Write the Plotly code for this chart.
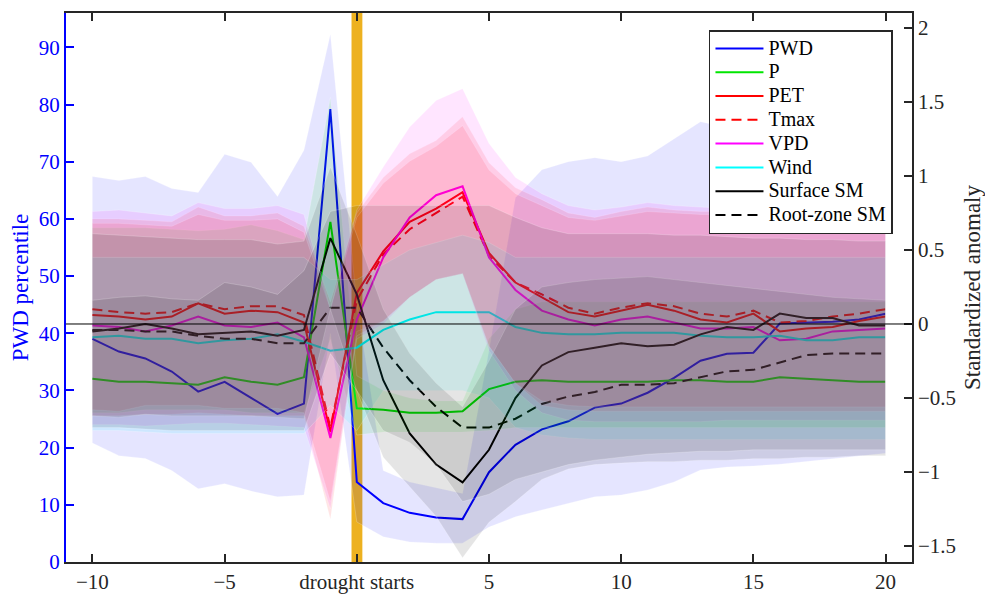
import plotly.graph_objects as go

days = list(range(-10, 21))

# PWD percentile (left axis)
pwd = [39.0, 36.8, 35.6, 33.3, 29.8, 31.5, 28.7, 25.9, 27.7, 79.2, 14.0, 10.3, 8.6, 7.8, 7.5,
       15.7, 20.5, 23.2, 24.6, 27.0, 27.7, 29.6, 32.2, 35.2, 36.4, 36.6, 41.7, 41.9, 42.0, 42.4, 43.4]
pwd_up = [67.4, 66.7, 67.4, 65.3, 64.6, 71.3, 69.9, 63.9, 72.0, 92.3, 45.0, 16.0, 14.0, 13.0, 12.0,
          37.0, 63.7, 68.6, 70.0, 70.7, 70.0, 71.0, 74.0, 77.0, 76.0, 76.0, 77.0, 78.0, 78.0, 78.0, 78.0]
pwd_lo = [20.8, 18.6, 18.1, 16.0, 12.8, 13.7, 12.4, 11.4, 11.7, 40.0, 7.0, 4.4, 3.5, 3.3, 3.3,
          6.1, 7.9, 9.1, 10.3, 11.4, 11.7, 12.6, 14.0, 16.1, 16.6, 16.8, 17.1, 17.5, 18.0, 18.5, 19.0]

# Standardized anomalies (right axis)
p = [-0.37, -0.39, -0.39, -0.40, -0.41, -0.36, -0.39, -0.41, -0.36, 0.69, -0.57, -0.58, -0.60, -0.60, -0.59,
     -0.44, -0.39, -0.38, -0.39, -0.39, -0.39, -0.39, -0.38, -0.38, -0.39, -0.39, -0.36, -0.37, -0.38, -0.39, -0.39]
pet = [0.06, 0.05, 0.03, 0.05, 0.14, 0.07, 0.09, 0.08, 0.01, -0.73, 0.21, 0.49, 0.69, 0.78, 0.89,
       0.48, 0.28, 0.18, 0.08, 0.05, 0.09, 0.13, 0.09, 0.03, 0.01, 0.07, -0.05, -0.03, -0.02, 0.02, 0.05]
tmax = [0.10, 0.08, 0.07, 0.08, 0.14, 0.10, 0.12, 0.12, 0.06, -0.70, 0.16, 0.47, 0.64, 0.75, 0.86,
        0.46, 0.28, 0.20, 0.11, 0.07, 0.11, 0.14, 0.12, 0.07, 0.05, 0.09, 0.01, 0.02, 0.05, 0.07, 0.10]
vpd = [-0.01, -0.02, -0.05, -0.01, 0.05, -0.01, -0.02, 0.01, -0.09, -0.77, 0.03, 0.45, 0.72, 0.87, 0.93,
       0.45, 0.23, 0.09, 0.03, -0.01, 0.03, 0.05, 0.01, -0.03, -0.03, -0.02, -0.11, -0.10, -0.05, -0.04, -0.03]
wind = [-0.09, -0.08, -0.10, -0.10, -0.13, -0.11, -0.10, -0.07, -0.12, -0.18, -0.16, -0.04, 0.03, 0.08, 0.08,
        0.08, -0.02, -0.06, -0.07, -0.07, -0.06, -0.06, -0.06, -0.08, -0.09, -0.09, -0.08, -0.11, -0.11, -0.09, -0.09]
surf_sm = [-0.05, -0.03, 0.00, -0.03, -0.07, -0.06, -0.05, -0.08, -0.04, 0.58, 0.20, -0.38, -0.74, -0.95, -1.07,
           -0.85, -0.50, -0.28, -0.19, -0.16, -0.13, -0.15, -0.14, -0.07, -0.02, -0.04, 0.07, 0.04, 0.04, -0.01, -0.01]
root_sm = [-0.04, -0.04, -0.05, -0.05, -0.08, -0.10, -0.10, -0.13, -0.13, 0.11, 0.11, -0.16, -0.38, -0.56, -0.70,
           -0.70, -0.64, -0.54, -0.49, -0.46, -0.41, -0.41, -0.40, -0.36, -0.32, -0.31, -0.26, -0.21, -0.20, -0.20, -0.20]

# Spread bands (right axis)
p_up = [0.65, 0.65, 0.65, 0.64, 0.63, 0.64, 0.67, 0.63, 0.57, 1.53, -0.35, -0.45, -0.50, -0.52, -0.52,
        -0.10, 0.10, 0.15, 0.15, 0.15, 0.15, 0.15, 0.15, 0.15, 0.15, 0.15, 0.15, 0.15, 0.15, 0.15, 0.15]
p_lo = [-0.60, -0.60, -0.58, -0.58, -0.58, -0.58, -0.60, -0.60, -0.60, -0.10, -0.75, -0.73, -0.73, -0.73, -0.73,
        -0.72, -0.70, -0.70, -0.70, -0.70, -0.70, -0.70, -0.70, -0.70, -0.70, -0.70, -0.70, -0.70, -0.70, -0.70, -0.70]
pet_up = [0.71, 0.71, 0.70, 0.69, 0.79, 0.73, 0.73, 0.75, 0.66, 0.15, 0.75, 0.99, 1.15, 1.24, 1.40,
          1.09, 0.92, 0.84, 0.75, 0.72, 0.76, 0.79, 0.77, 0.76, 0.76, 0.78, 0.75, 0.76, 0.77, 0.77, 0.77]
pet_lo = [-0.62, -0.62, -0.61, -0.61, -0.60, -0.61, -0.62, -0.62, -0.62, -1.32, -0.05, 0.02, 0.18, 0.30, 0.34,
          -0.15, -0.40, -0.55, -0.58, -0.59, -0.59, -0.59, -0.59, -0.59, -0.59, -0.59, -0.59, -0.59, -0.59, -0.59, -0.59]
tmax_up = [0.68, 0.68, 0.67, 0.66, 0.74, 0.70, 0.70, 0.71, 0.62, 0.10, 0.72, 0.95, 1.10, 1.20, 1.34,
           1.04, 0.88, 0.80, 0.72, 0.70, 0.73, 0.76, 0.75, 0.74, 0.74, 0.76, 0.73, 0.74, 0.75, 0.75, 0.75]
tmax_lo = [-0.58, -0.59, -0.55, -0.55, -0.55, -0.57, -0.57, -0.57, -0.60, -1.20, -0.08, 0.02, 0.18, 0.30, 0.34,
           -0.15, -0.40, -0.52, -0.55, -0.56, -0.56, -0.56, -0.56, -0.56, -0.56, -0.56, -0.56, -0.56, -0.56, -0.56, -0.56]
vpd_up = [0.76, 0.77, 0.75, 0.73, 0.82, 0.78, 0.78, 0.80, 0.74, 0.10, 0.77, 1.06, 1.33, 1.51, 1.59,
          1.22, 0.99, 0.88, 0.80, 0.77, 0.79, 0.82, 0.80, 0.79, 0.78, 0.80, 0.77, 0.77, 0.78, 0.79, 0.78]
vpd_lo = [-0.68, -0.68, -0.69, -0.68, -0.67, -0.67, -0.68, -0.69, -0.70, -1.25, -0.10, 0.00, 0.18, 0.30, 0.34,
          -0.18, -0.45, -0.60, -0.65, -0.66, -0.66, -0.66, -0.66, -0.66, -0.65, -0.65, -0.65, -0.65, -0.65, -0.65, -0.65]
wind_up = [0.45, 0.45, 0.45, 0.45, 0.45, 0.45, 0.45, 0.45, 0.45, 0.30, 0.30, 0.40, 0.50, 0.55, 0.60,
           0.55, 0.45, 0.45, 0.45, 0.45, 0.45, 0.45, 0.45, 0.45, 0.45, 0.45, 0.45, 0.45, 0.45, 0.45, 0.45]
wind_lo = [-0.72, -0.72, -0.73, -0.74, -0.74, -0.74, -0.74, -0.74, -0.74, -0.55, -0.72, -0.45, -0.45, -0.45, -0.45,
           -0.50, -0.70, -0.75, -0.77, -0.78, -0.78, -0.78, -0.78, -0.78, -0.78, -0.78, -0.78, -0.78, -0.78, -0.78, -0.78]
surf_up = [0.61, 0.60, 0.59, 0.58, 0.57, 0.57, 0.57, 0.54, 0.56, 1.06, 0.60, 0.10, -0.20, -0.40, -0.56,
           -0.25, 0.10, 0.25, 0.28, 0.30, 0.31, 0.32, 0.30, 0.28, 0.26, 0.24, 0.22, 0.20, 0.18, 0.17, 0.16]
surf_lo = [-0.62, -0.63, -0.61, -0.62, -0.62, -0.62, -0.62, -0.63, -0.64, 0.10, -0.45, -0.90, -1.10, -1.30, -1.58,
           -1.34, -1.20, -1.05, -0.98, -0.95, -0.94, -0.93, -0.93, -0.92, -0.92, -0.91, -0.91, -0.90, -0.90, -0.89, -0.89]
root_up = [0.16, 0.18, 0.19, 0.17, 0.16, 0.28, 0.25, 0.20, 0.36, 0.76, 0.80, 0.80, 0.80, 0.80, 0.80,
           0.80, 0.72, 0.65, 0.61, 0.61, 0.61, 0.61, 0.60, 0.60, 0.59, 0.58, 0.58, 0.57, 0.57, 0.56, 0.56]
root_lo = [-0.70, -0.70, -0.71, -0.72, -0.72, -0.72, -0.72, -0.72, -0.72, -0.20, -0.45, -0.72, -0.80, -0.95, -1.20,
           -1.15, -1.05, -1.00, -0.95, -0.92, -0.90, -0.88, -0.87, -0.86, -0.86, -0.85, -0.85, -0.85, -0.85, -0.85, -0.85]

x_tickvals = [-10, -5, 0, 5, 10, 15, 20]
x_ticktext = ["−10", "−5", "drought starts", "5", "10", "15", "20"]
y1_tickvals = [0, 10, 20, 30, 40, 50, 60, 70, 80, 90]
y2_tickvals = [-1.5, -1, -0.5, 0, 0.5, 1, 1.5, 2]
y2_ticktext = ["−1.5", "−1", "−0.5", "0", "0.5", "1", "1.5", "2"]

FONT = "Liberation Serif"
TICK_SIZE = 21
TITLE_SIZE = 23
LEGEND_TEXT = 20
ALPHA = 0.1
DASH = "10px,6px"

fig = go.Figure()


def band(lo, up, rgb, axis):
    fig.add_trace(go.Scatter(
        x=days + days[::-1], y=up + lo[::-1], fill="toself",
        fillcolor=f"rgba({rgb},{ALPHA})",
        line=dict(width=0.6, color="rgba(255,255,255,0.35)"),
        hoverinfo="skip", showlegend=False, yaxis=axis, mode="lines"))


def line(y, name, rgb, dash, axis):
    fig.add_trace(go.Scatter(
        x=days, y=y, mode="lines", yaxis=axis,
        name=f'<span style="font-size:{LEGEND_TEXT}px">{name}</span>',
        line=dict(color=f"rgb({rgb})", width=2, dash=dash)))


# left axis: PWD
band(pwd_lo, pwd_up, "0,0,255", "y")
line(pwd, "PWD", "0,0,255", "solid", "y")

series = [
    (p, "P", "0,230,0", "solid", p_lo, p_up),
    (pet, "PET", "255,0,0", "solid", pet_lo, pet_up),
    (tmax, "Tmax", "255,0,0", DASH, tmax_lo, tmax_up),
    (vpd, "VPD", "255,0,255", "solid", vpd_lo, vpd_up),
    (wind, "Wind", "0,255,255", "solid", wind_lo, wind_up),
    (surf_sm, "Surface SM", "0,0,0", "solid", surf_lo, surf_up),
    (root_sm, "Root-zone SM", "0,0,0", DASH, root_lo, root_up),
]
for y, name, rgb, dash, lo, up in series:
    line(y, name, rgb, dash, "y2")
for y, name, rgb, dash, lo, up in series:
    band(lo, up, rgb, "y2")

# drought onset bar and zero line
fig.add_shape(type="rect", xref="x", yref="paper", x0=-0.2, x1=0.21, y0=0, y1=1,
              fillcolor="#EDB120", line=dict(width=0), layer="below")
fig.add_shape(type="line", xref="paper", yref="y2", x0=0, x1=1, y0=0, y1=0,
              line=dict(color="black", width=1), layer="above")

fig.update_layout(
    width=985, height=594,
    margin=dict(l=66, r=73, t=13, b=32, autoexpand=False),
    plot_bgcolor="white", paper_bgcolor="white",
    font=dict(family=FONT, size=TICK_SIZE, color="#262626"),
    showlegend=True,
    legend=dict(x=0.9775, y=0.969, xanchor="right", yanchor="top",
                bgcolor="white", bordercolor="#262626", borderwidth=1.5,
                font=dict(family=FONT, size=16, color="black"),
                itemwidth=48, tracegroupgap=0),
    xaxis=dict(range=[-11, 21], tickvals=x_tickvals, ticktext=x_ticktext, automargin=False,
               ticks="inside", ticklen=8, tickwidth=1.5, tickcolor="#262626",
               showline=True, linecolor="#262626", linewidth=1.5, mirror="ticks",
               showgrid=False, zeroline=False,
               tickfont=dict(family=FONT, size=TICK_SIZE, color="#262626")),
    yaxis=dict(range=[0, 96], tickvals=y1_tickvals, automargin=False,
               ticks="inside", ticklen=8, tickwidth=1.5, tickcolor="blue",
               showline=True, linecolor="blue", linewidth=2,
               showgrid=False, zeroline=False,
               tickfont=dict(family=FONT, size=TICK_SIZE, color="blue"),
               title=dict(text="PWD percentile", font=dict(family=FONT, size=TITLE_SIZE, color="blue"),
                          standoff=4)),
    yaxis2=dict(range=[-1.608, 2.101], overlaying="y", side="right", anchor="x", automargin=False,
                tickvals=y2_tickvals, ticktext=y2_ticktext,
                ticks="inside", ticklen=8, tickwidth=1.5, tickcolor="#262626",
                showline=True, linecolor="#262626", linewidth=1.5,
                showgrid=False, zeroline=False,
                tickfont=dict(family=FONT, size=TICK_SIZE, color="#262626"),
                title=dict(text="Standardized anomaly", font=dict(family=FONT, size=TITLE_SIZE, color="#262626"),
                           standoff=10)),
)

fig.write_html("out.html")
